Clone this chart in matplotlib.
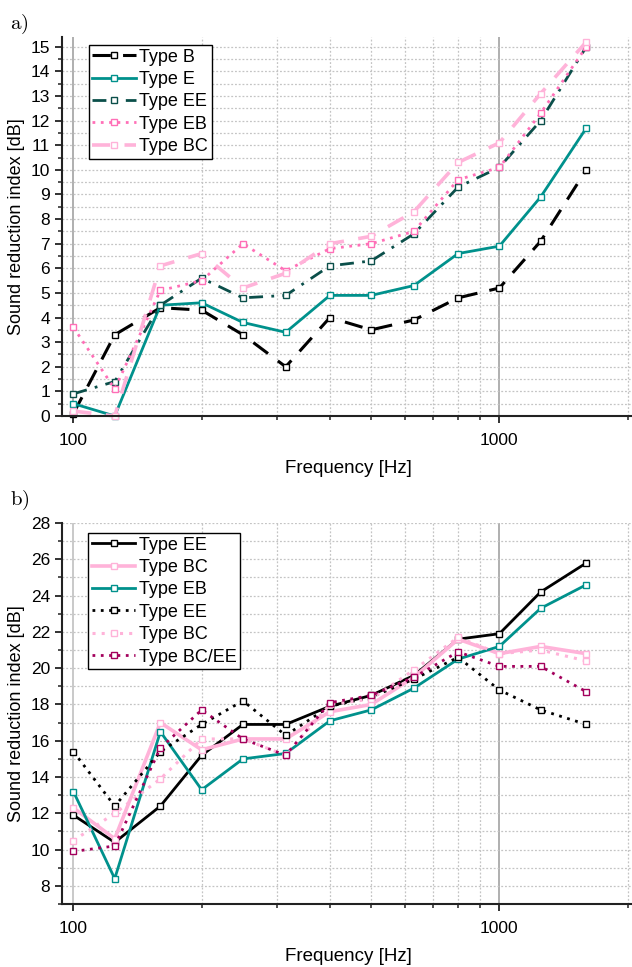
import numpy as np
import matplotlib
matplotlib.use('Agg')
import matplotlib.pyplot as plt
from matplotlib.ticker import FixedLocator, NullFormatter, MultipleLocator

plt.rcParams['font.family'] = ['Liberation Sans', 'DejaVu Sans']
plt.rcParams['mathtext.fontset'] = 'cm'

# third-octave band centres
freq = [100, 125, 160, 200, 250, 315, 400, 500, 630, 800, 1000, 1250, 1600]

# panel a)
a_type_b = [0.1, 3.3, 4.4, 4.3, 3.3, 2.0, 4.0, 3.5, 3.9, 4.8, 5.2, 7.1, 10.0]
a_type_e = [0.5, 0.0, 4.5, 4.6, 3.8, 3.4, 4.9, 4.9, 5.3, 6.6, 6.9, 8.9, 11.7]
a_type_ee = [0.9, 1.4, 4.5, 5.6, 4.8, 4.9, 6.1, 6.3, 7.4, 9.3, 10.1, 12.0, 15.0]
a_type_eb = [3.6, 1.1, 5.1, 5.5, 7.0, 5.9, 6.8, 7.0, 7.5, 9.6, 10.1, 12.3, 15.0]
a_type_bc = [0.2, 0.0, 6.1, 6.6, 5.2, 5.8, 7.0, 7.3, 8.3, 10.3, 11.1, 13.1, 15.2]

# panel b)
b_ee = [11.9, 10.4, 12.4, 15.2, 16.9, 16.9, 17.9, 18.5, 19.6, 21.6, 21.9, 24.2, 25.8]
b_bc = [12.3, 10.6, 17.0, 15.5, 16.1, 16.1, 17.6, 18.0, 19.5, 21.6, 20.8, 21.2, 20.8]
b_eb = [13.2, 8.4, 16.5, 13.3, 15.0, 15.3, 17.1, 17.7, 18.9, 20.5, 21.2, 23.3, 24.6]
b_ee_dot = [15.4, 12.4, 15.4, 16.9, 18.2, 16.3, 17.9, 18.4, 19.4, 20.6, 18.8, 17.7, 16.9]
b_bc_dot = [10.5, 12.0, 13.9, 16.1, 16.1, 15.2, 18.0, 18.3, 19.9, 21.7, 20.8, 21.0, 20.4]
b_bcee_dot = [9.9, 10.2, 15.6, 17.7, 16.1, 15.2, 18.1, 18.5, 19.5, 20.9, 20.1, 20.1, 18.7]

TEAL = '#00918c'
DTEAL = '#0b4f4a'
HPINK = '#ff6fb7'
LPINK = '#ffb3d9'
CRIMSON = '#a3005c'

fig = plt.figure(figsize=(6.32, 9.67), dpi=100)
ax1 = fig.add_axes([0.0981, 0.5698, 0.905, 0.392])
ax2 = fig.add_axes([0.0981, 0.0651, 0.905, 0.394])


def style_axes(ax, ylo, yhi, ymaj, ymin):
    ax.set_xscale('log')
    ax.set_xlim(94, 2070)
    ax.set_ylim(ylo, yhi)
    ax.xaxis.set_major_locator(FixedLocator([100, 1000]))
    ax.xaxis.set_minor_locator(FixedLocator([200, 300, 400, 500, 600, 700, 800, 900, 2000]))
    ax.xaxis.set_minor_formatter(NullFormatter())
    ax.set_xticklabels(['100', '1000'])
    ax.yaxis.set_major_locator(MultipleLocator(ymaj))
    ax.yaxis.set_minor_locator(MultipleLocator(ymin))
    for s in ['top', 'right']:
        ax.spines[s].set_visible(False)
    for s in ['left', 'bottom']:
        ax.spines[s].set_linewidth(1.5)
        ax.spines[s].set_color('#222222')
    ax.tick_params(which='major', direction='out', length=5, width=1.3, labelsize=12.5, colors='#222222')
    ax.tick_params(which='minor', direction='out', length=3, width=1.1, colors='#222222')
    ax.tick_params(axis='x', which='major', pad=7)
    ax.grid(True, which='both', axis='y', ls=(0, (1.5, 1.5)), color='#c4c4c4', lw=0.9)
    ax.grid(True, which='minor', axis='x', ls=(0, (1.5, 1.5)), color='#c4c4c4', lw=0.9)
    ax.grid(True, which='major', axis='x', ls='-', color='#9a9a9a', lw=1.1)
    ax.set_axisbelow(True)
    ax.set_xlabel('Frequency [Hz]', fontsize=13.5, labelpad=9)
    ax.set_ylabel('Sound reduction index [dB]', fontsize=13, labelpad=4)
    ax.tick_params(axis='x', labelcolor='black')
    ax.tick_params(axis='y', labelcolor='black')


mk = dict(marker='s', markersize=4, markerfacecolor='white', markeredgewidth=1.0, clip_on=False)

style_axes(ax1, 0, 15.4, 1, 0.5)
ax1.plot(freq, a_type_b, color='black', lw=2.2, dashes=(6, 4), label='Type B', **mk)
ax1.plot(freq, a_type_e, color=TEAL, lw=2.0, label='Type E', **mk)
ax1.plot(freq, a_type_ee, color=DTEAL, lw=2.0, dashes=(5, 3, 1, 3), label='Type EE', **mk)
ax1.plot(freq, a_type_eb, color=HPINK, lw=2.0, dashes=(1, 2), label='Type EB', **mk)
ax1.plot(freq, a_type_bc, color=LPINK, lw=2.6, dashes=(5, 4), label='Type BC', **mk)

style_axes(ax2, 7, 28, 2, 1)
ax2.get_xgridlines()[0].set_color('#bbbbbb')
ax2.plot(freq, b_ee, color='black', lw=2.0, label='Type EE', **mk)
ax2.plot(freq, b_bc, color=LPINK, lw=2.6, label='Type BC', **mk)
ax2.plot(freq, b_eb, color=TEAL, lw=2.0, label='Type EB', **mk)
ax2.plot(freq, b_ee_dot, color='black', lw=2.0, dashes=(1, 2), label='Type EE', **mk)
ax2.plot(freq, b_bc_dot, color=LPINK, lw=2.2, dashes=(1, 2), label='Type BC', **mk)
ax2.plot(freq, b_bcee_dot, color=CRIMSON, lw=2.0, dashes=(1, 2), label='Type BC/EE', **mk)

leg_kw = dict(loc='upper left', borderaxespad=0, fontsize=13, fancybox=False, framealpha=1,
              edgecolor='black', numpoints=1, handlelength=2.4, handletextpad=0.2,
              labelspacing=0.3, borderpad=0.2)
l1 = ax1.legend(bbox_to_anchor=(0.047, 0.979), **leg_kw)
l2 = ax2.legend(bbox_to_anchor=(0.046, 0.974), **leg_kw)
for l in (l1, l2):
    l.get_frame().set_linewidth(1.0)

fig.text(0.016, 0.975, r'$\mathrm{a)}$', fontsize=15, va='center', ha='left')
fig.text(0.016, 0.483, r'$\mathrm{b)}$', fontsize=15, va='center', ha='left')

fig.savefig('out.png', dpi=100)
